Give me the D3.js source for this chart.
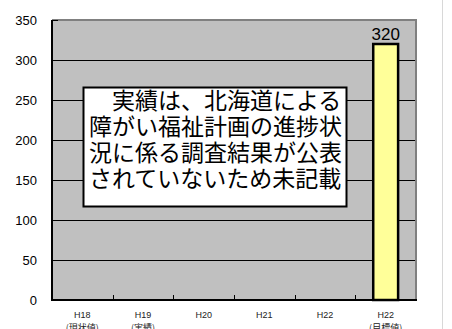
<!DOCTYPE html>
<html>
<head>
<meta charset="utf-8">
<script src="https://cdn.jsdelivr.net/npm/d3@7"></script>
<style>
  html, body { margin: 0; padding: 0; background: #ffffff; }
  svg { display: block; }
</style>
</head>
<body>
<svg id="chart" width="452" height="329"></svg>
<script>
// Categories (fiscal years) and their sub-labels
const categories = ["H18", "H19", "H20", "H21", "H22", "H22 目標"];
const categoryLabels = ["H18", "H19", "H20", "H21", "H22", "H22"];
const categorySubLabels = ["(現状値)", "(実績)", "", "", "", "(目標値)"];
// Only the target value is known; the others are not published
const values = [null, null, null, null, null, 320];
const yTicks = [0, 50, 100, 150, 200, 250, 300, 350];
const noteLines = [
  "\u3000実績は、北海道による",
  "障がい福祉計画の進捗状",
  "況に係る調査結果が公表",
  "されていないため未記載"
];

const svg = d3.select("#chart");
const plot = { left: 52, right: 416, top: 20, bottom: 300 };

const x = d3.scaleBand().domain(categories).range([plot.left, plot.right]).padding(0);
const y = d3.scaleLinear().domain([0, 350]).range([plot.bottom, plot.top]);

// Outer frame line on the right
svg.append("line")
  .attr("x1", 442.5).attr("x2", 442.5).attr("y1", 0).attr("y2", 329)
  .attr("stroke", "#d8d8d8").attr("stroke-width", 1);

// Plot background
svg.append("rect")
  .attr("x", plot.left).attr("y", plot.top)
  .attr("width", plot.right - plot.left).attr("height", plot.bottom - plot.top)
  .attr("fill", "#c0c0c0");

// Horizontal gridlines
svg.append("g")
  .selectAll("line")
  .data(yTicks.filter(d => d > 0 && d < 350))
  .join("line")
  .attr("x1", plot.left).attr("x2", plot.right)
  .attr("y1", d => Math.round(y(d)) + 0.5).attr("y2", d => Math.round(y(d)) + 0.5)
  .attr("stroke", "#000").attr("stroke-width", 1);

// Top and right border of the plot area
svg.append("path")
  .attr("d", `M${plot.left},${plot.top} H${plot.right} V${plot.bottom}`)
  .attr("fill", "none").attr("stroke", "#808080").attr("stroke-width", 2);

// Y axis (ticks pointing inward)
const yAxis = d3.axisRight(y).tickValues(yTicks).tickSize(6).tickFormat("");
const gy = svg.append("g").attr("transform", `translate(${plot.left},0)`).call(yAxis);
gy.select(".domain").remove();
gy.selectAll(".tick line").attr("stroke", "#000");

svg.append("g")
  .selectAll("text")
  .data(yTicks)
  .join("text")
  .attr("x", 37).attr("y", d => y(d))
  .attr("dy", "0.36em")
  .attr("text-anchor", "end")
  .attr("font-family", "Liberation Sans, Arial, sans-serif")
  .attr("font-size", 13)
  .attr("fill", "#000")
  .text(d => d);

// Bars
const barW = x.bandwidth() * 0.41;
svg.append("g")
  .selectAll("rect")
  .data(categories.map((c, i) => ({ c, v: values[i] })).filter(d => d.v != null))
  .join("rect")
  .attr("x", d => x(d.c) + (x.bandwidth() - barW) / 2)
  .attr("y", d => y(d.v))
  .attr("width", barW)
  .attr("height", d => y(0) - y(d.v))
  .attr("fill", "#ffff99")
  .attr("stroke", "#000")
  .attr("stroke-width", 2.5);

// Value label
svg.append("g")
  .selectAll("text")
  .data(categories.map((c, i) => ({ c, v: values[i] })).filter(d => d.v != null))
  .join("text")
  .attr("x", d => x(d.c) + x.bandwidth() / 2)
  .attr("y", d => y(d.v) - 4.5)
  .attr("text-anchor", "middle")
  .attr("font-family", "Liberation Sans, Arial, sans-serif")
  .attr("font-size", 17)
  .attr("fill", "#000")
  .text(d => d.v);

// Left and bottom axis lines
svg.append("path")
  .attr("d", `M${plot.left},${plot.top} V${plot.bottom} H${plot.right + 1}`)
  .attr("fill", "none").attr("stroke", "#000").attr("stroke-width", 2);

// X axis tick marks at category boundaries, pointing upward
svg.append("g")
  .selectAll("line")
  .data(categories.slice(1))
  .join("line")
  .attr("x1", d => Math.round(x(d)) + 0.5).attr("x2", d => Math.round(x(d)) + 0.5)
  .attr("y1", plot.bottom).attr("y2", plot.bottom - 5)
  .attr("stroke", "#000").attr("stroke-width", 1);

// Category labels
const xl = svg.append("g")
  .attr("font-family", "Liberation Sans, Arial, sans-serif")
  .attr("font-size", 9)
  .attr("fill", "#222")
  .attr("text-anchor", "middle");
xl.selectAll("text.main")
  .data(categories)
  .join("text")
  .attr("class", "main")
  .attr("x", d => x(d) + x.bandwidth() / 2)
  .attr("y", 318)
  .text((d, i) => categoryLabels[i]);
xl.selectAll("text.sub")
  .data(categories)
  .join("text")
  .attr("class", "sub")
  .attr("x", d => x(d) + x.bandwidth() / 2)
  .attr("y", 331)
  .attr("font-family", "Noto Sans CJK JP, sans-serif")
  .text((d, i) => categorySubLabels[i]);

// Note box
const box = { x: 83.5, y: 87.5, w: 263, h: 119 };
svg.append("rect")
  .attr("x", box.x).attr("y", box.y).attr("width", box.w).attr("height", box.h)
  .attr("fill", "#fff").attr("stroke", "#000").attr("stroke-width", 2);
svg.append("g")
  .selectAll("text")
  .data(noteLines)
  .join("text")
  .attr("x", 89)
  .attr("y", (d, i) => 109 + i * 26)
  .attr("font-family", "Noto Sans CJK JP, sans-serif")
  .attr("font-size", 23)
  .attr("fill", "#000")
  .text(d => d);
</script>
</body>
</html>
